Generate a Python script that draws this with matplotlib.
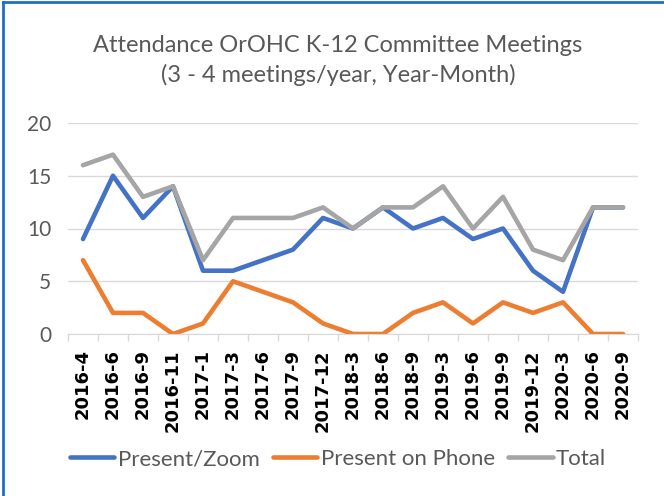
import matplotlib.pyplot as plt
import numpy as np

# Data
months = ['2016-4', '2016-6', '2016-9', '2016-11', '2017-1', '2017-3', '2017-6', '2017-9',
          '2017-12', '2018-3', '2018-6', '2018-9', '2019-3', '2019-6', '2019-9', '2019-12',
          '2020-3', '2020-6', '2020-9']
zoom = [9, 15, 11, 14, 6, 6, 7, 8, 11, 10, 12, 10, 11, 9, 10, 6, 4, 12, 12]
phone = [7, 2, 2, 0, 1, 5, 4, 3, 1, 0, 0, 2, 3, 1, 3, 2, 3, 0, 0]
total = [16, 17, 13, 14, 7, 11, 11, 11, 12, 10, 12, 12, 14, 10, 13, 8, 7, 12, 12]

plt.rcParams['font.family'] = ['Lato', 'DejaVu Sans']

fig = plt.figure(figsize=(6.64, 4.96), dpi=100)
ax = fig.add_axes([68 / 664, 162 / 496, 570 / 664, 211 / 496])

x = np.arange(len(months))
lw = 3.3
l1, = ax.plot(x, zoom, color='#4472C4', lw=lw, solid_capstyle='round', label='Present/Zoom')
l2, = ax.plot(x, phone, color='#ED7D31', lw=lw, solid_capstyle='round', label='Present on Phone')
l3, = ax.plot(x, total, color='#A5A5A5', lw=lw, solid_capstyle='round', label='Total')

ax.set_xlim(-0.5, len(months) - 0.5)
ax.set_ylim(0, 20)
ax.set_yticks([0, 5, 10, 15, 20])
ax.yaxis.grid(True, color='#D9D9D9', lw=1)
ax.set_axisbelow(True)

ax.set_xticks(x)
ax.set_xticklabels(months, rotation=90, fontsize=13, fontweight='bold', family='DejaVu Sans')
ax.set_xticks(np.arange(len(months) + 1) - 0.5, minor=True)
ax.tick_params(axis='x', which='major', length=0, pad=11, colors='black')
ax.tick_params(axis='x', which='minor', length=5, color='#D9D9D9', width=1)
ax.tick_params(axis='y', length=0, labelsize=15, colors='#595959', pad=12)

for s in ['top', 'right', 'left']:
    ax.spines[s].set_visible(False)
ax.spines['bottom'].set_color('#D9D9D9')

fig.text(338 / 664, 1 - 46 / 496, 'Attendance OrOHC K-12 Committee Meetings',
         ha='center', va='center', fontsize=17, color='#595959')
fig.text(338 / 664, 1 - 75 / 496, '(3 - 4 meetings/year, Year-Month)',
         ha='center', va='center', fontsize=17, color='#595959')

leg = fig.legend(handles=[l1, l2, l3], loc='center', bbox_to_anchor=(338 / 664, 1 - 459 / 496),
                 ncol=3, frameon=False, fontsize=16, handlelength=2.0, handletextpad=0.15,
                 columnspacing=0.6)
for t in leg.get_texts():
    t.set_color('#595959')

# Border (left and top edges visible in the crop)
fig.add_artist(plt.Line2D([3.5 / 664, 3.5 / 664], [0, 1 - 1.5 / 496], color='#1F6FC5', lw=2,
                          transform=fig.transFigure))
fig.add_artist(plt.Line2D([3.5 / 664, 1], [1 - 1.5 / 496, 1 - 1.5 / 496], color='#1F6FC5', lw=2,
                          transform=fig.transFigure))

fig.savefig('out.png', dpi=100)
